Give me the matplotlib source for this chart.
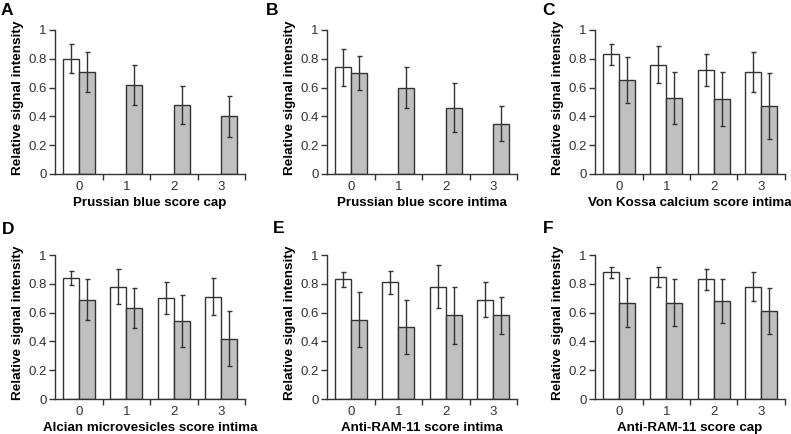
import matplotlib
matplotlib.use("Agg")
import matplotlib.pyplot as plt
import numpy as np

plt.rcParams['font.family'] = ['Liberation Sans', 'DejaVu Sans']

# score categories on the x axis
scores = ['0', '1', '2', '3']

# panel letters and x-axis titles
letters = ['A', 'B', 'C', 'D', 'E', 'F']
xtitles = ['Prussian blue score cap', 'Prussian blue score intima',
           'Von Kossa calcium score intima', 'Alcian microvesicles score intima',
           'Anti-RAM-11 score intima', 'Anti-RAM-11 score cap']

# white bars (None = no bar) and their errors
white_A = [0.80, None, None, None]
white_A_err = [0.10, None, None, None]
white_B = [0.74, None, None, None]
white_B_err = [0.13, None, None, None]
white_C = [0.83, 0.76, 0.72, 0.71]
white_C_err = [0.07, 0.13, 0.11, 0.14]
white_D = [0.84, 0.78, 0.70, 0.71]
white_D_err = [0.05, 0.12, 0.11, 0.13]
white_E = [0.83, 0.81, 0.78, 0.69]
white_E_err = [0.05, 0.08, 0.15, 0.12]
white_F = [0.88, 0.85, 0.83, 0.78]
white_F_err = [0.04, 0.07, 0.07, 0.10]

# grey bars and their errors
grey_A = [0.71, 0.62, 0.48, 0.40]
grey_A_err = [0.14, 0.14, 0.13, 0.14]
grey_B = [0.70, 0.60, 0.46, 0.35]
grey_B_err = [0.12, 0.14, 0.17, 0.12]
grey_C = [0.65, 0.53, 0.52, 0.47]
grey_C_err = [0.16, 0.18, 0.19, 0.23]
grey_D = [0.69, 0.63, 0.54, 0.42]
grey_D_err = [0.14, 0.14, 0.18, 0.19]
grey_E = [0.55, 0.50, 0.58, 0.58]
grey_E_err = [0.19, 0.19, 0.20, 0.13]
grey_F = [0.67, 0.67, 0.68, 0.61]
grey_F_err = [0.17, 0.16, 0.15, 0.16]

whites = [white_A, white_B, white_C, white_D, white_E, white_F]
white_errs = [white_A_err, white_B_err, white_C_err, white_D_err, white_E_err, white_F_err]
greys = [grey_A, grey_B, grey_C, grey_D, grey_E, grey_F]
grey_errs = [grey_A_err, grey_B_err, grey_C_err, grey_D_err, grey_E_err, grey_F_err]

W, H = 791, 434
fig = plt.figure(figsize=(W / 100, H / 100), dpi=100)

# axes boxes in pixels
lefts = [55, 327, 595]
tops = [30, 255]
aw, ah = 190, 144
letter_pos = [(1, 3), (266, 3), (542, 3), (2, 222), (273, 221), (543, 221)]

edge = '#333333'
x = np.arange(len(scores))
bw = 0.335

for i in range(6):
    col, row = i % 3, i // 3
    l = lefts[col]
    t = tops[row]
    ax = fig.add_axes([l / W, 1 - (t + ah) / H, aw / W, ah / H])

    wv = [np.nan if v is None else v for v in whites[i]]
    ax.bar(x - bw / 2, wv, bw, color='white', edgecolor=edge, linewidth=1.0)
    xs = [xx for xx, v in zip(x, whites[i]) if v is not None]
    ys = [v for v in whites[i] if v is not None]
    es = [e for e in white_errs[i] if e is not None]
    ax.errorbar(np.array(xs) - bw / 2, ys, yerr=es, fmt='none', ecolor=edge,
                elinewidth=1.0, capsize=1.8, capthick=1.0)

    ax.bar(x + bw / 2, greys[i], bw, color='#c0c0c0', edgecolor=edge, linewidth=1.0)
    ax.errorbar(x + bw / 2, greys[i], yerr=grey_errs[i], fmt='none', ecolor=edge,
                elinewidth=1.0, capsize=1.8, capthick=1.0)

    ax.set_xlim(-0.5, 3.5)
    ax.set_ylim(0, 1)
    ax.set_yticks([0, 0.2, 0.4, 0.6, 0.8, 1.0])
    ax.set_yticklabels(['0', '0.2', '0.4', '0.6', '0.8', '1'])
    ax.set_xticks(x)
    ax.set_xticklabels(scores)
    ax.set_xticks([0.5, 1.5, 2.5, 3.5], minor=True)
    ax.tick_params(axis='x', which='major', length=0, pad=5)
    ax.tick_params(axis='x', which='minor', length=4, width=1, color=edge, direction='out')
    ax.tick_params(axis='y', length=4, width=1, color=edge, direction='out', pad=2)
    ax.tick_params(labelsize=9.5, labelcolor='#333333')
    for s in ['top', 'right']:
        ax.spines[s].set_visible(False)
    for s in ['left', 'bottom']:
        ax.spines[s].set_color(edge)
        ax.spines[s].set_linewidth(1.0)

    ax.set_xlabel(xtitles[i], fontsize=9.6, fontweight='bold', labelpad=3)
    ax.set_ylabel('Relative signal intensity', fontsize=9.7, fontweight='bold')
    ax.yaxis.set_label_coords(-0.165, 0.53)

    lx, ly = letter_pos[i]
    fig.text(lx / W, 1 - ly / H, letters[i], fontsize=12.5, fontweight='bold',
             ha='left', va='top')

fig.savefig('out.png', dpi=100)
